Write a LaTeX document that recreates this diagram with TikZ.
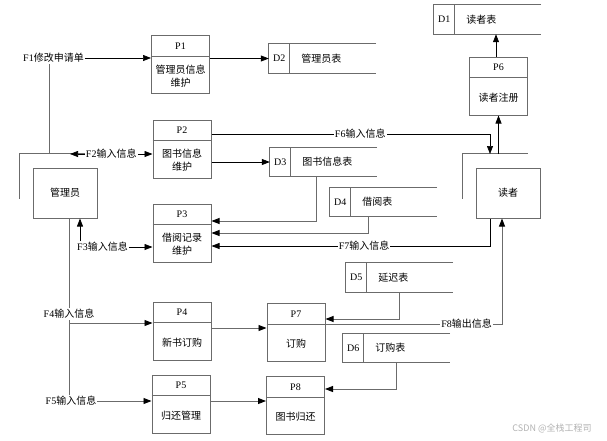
\documentclass[tikz,border=0pt]{standalone}
\usepackage{fontspec}
\setmainfont{Liberation Serif}
\newfontfamily\cjk{Noto Sans CJK SC}
\usetikzlibrary{arrows.meta,positioning}
\newcommand{\zh}[1]{{\cjk #1}}
\newcommand{\newProcess}[4]{%
  \node[process] (#1) at (#4) {};
  \draw[frame] ([yshift=-21pt]#1.north west) -- ([yshift=-21pt]#1.north east);
  \node at ([yshift=-11pt]#1.north) {#2};
  \node[zh,align=center] at ([yshift=-41pt]#1.north) {#3};}
\newcommand{\newStore}[4]{%
  \node[store] (#1) at (#4) {};
  \draw[frame] (#1.north east) -- (#1.north west) -- (#1.south west) -- (#1.south east);
  \draw[frame] ([xshift=21pt]#1.north west) -- ([xshift=21pt]#1.south west);
  \node at ([xshift=10.5pt]#1.west) {#2};
  \node[zh,anchor=west] at ([xshift=29pt]#1.west) {#3};}
\newcommand{\newEntity}[3]{%
  \node[entity] (#1) at (#3) {#2};
  \draw[frame] ([xshift=-13pt,yshift=20pt]#1.south west) -- ([xshift=-13pt,yshift=14pt]#1.north west)
    -- ([xshift=-13pt,yshift=14pt]#1.north east);}

\begin{document}
\begin{tikzpicture}[
    % pixel grid, y downwards
    x=1pt,y=-1pt,
    % Default arrow tip
    >={Triangle[length=8pt,width=6pt,color=black]},
    font=\fontsize{10}{13}\selectfont,
    zh/.style={font=\fontsize{10}{13}\selectfont\cjk},
    frame/.style={draw=black!58,line width=1pt},
    process/.style={frame,minimum width=58pt,minimum height=58pt,inner sep=0pt},
    store/.style={minimum width=107pt,minimum height=29pt,inner sep=0pt},
    entity/.style={frame,zh,minimum width=64pt,minimum height=50pt,inner sep=0pt},
    flow/.style={draw=black,line width=0.7pt},
    lead/.style={draw=black!58,line width=0.9pt},
    lbl/.style={fill=white,inner sep=1pt}
    ]
    \useasboundingbox (0,0) rectangle (607,440);

    \newEntity{admin}{管理员}{65,193}
    \newEntity{reader}{读者}{508,193}

    \newProcess{P1}{P1}{管理员信息\\维护}{180.5,64.5}
    \newProcess{P2}{P2}{图书信息\\维护}{182,149}
    \newProcess{P3}{P3}{借阅记录\\维护}{182,233}
    \newProcess{P4}{P4}{新书订购}{182,331}
    \newProcess{P5}{P5}{归还管理}{181,404}
    \newProcess{P6}{P6}{读者注册}{498.5,86}
    \newProcess{P7}{P7}{订购}{296,332.5}
    \newProcess{P8}{P8}{图书归还}{295.5,405.5}

    \newStore{D1}{D1}{读者表}{487.5,19.5}
    \newStore{D2}{D2}{管理员表}{322.5,58.5}
    \newStore{D3}{D3}{图书信息表}{323.5,162}
    \newStore{D4}{D4}{借阅表}{383.5,202}
    \newStore{D5}{D5}{延迟表}{399.5,277.5}
    \newStore{D6}{D6}{订购表}{396.5,348}

    % manager flows
    \coordinate (f1) at (49,154);
    \node[lbl] (F1) at (53.5,58) {F1\zh{修改申请单}};
    \draw[lead] (f1) -- (f1 |- F1.south);
    \draw[flow,->] (F1.east) -- (F1.east -| P1.west);
    \coordinate (f2) at (70,154);
    \draw[flow,<->] (f2) -- node[lbl]{F2\zh{输入信息}} (f2 -| P2.west);
    \node[lbl] (F3) at (102.5,247) {F3\zh{输入信息}};
    \coordinate (f3) at ([xshift=15pt]admin.south);
    \draw[flow,->] (F3.east) -- (F3.east -| P3.west);
    \draw[flow,->] (f3 |- F3.north) -- (f3);
    \coordinate (leg) at ([xshift=4pt]admin.south);
    \node[lbl] (F5) at (71,401) {F5\zh{输入信息}};
    \draw[lead] (leg) -- (leg |- F5.north);
    \node[lbl] (F4) at (69,314) {F4\zh{输入信息}};
    \coordinate (f4) at (69,323);
    \draw[lead,->] (f4) -- (f4 -| P4.west);
    \draw[lead,->] (F5.east) -- (F5.east -| P5.west);

    % stores
    \draw[flow,->] (P1.east |- D2.west) -- (D2.west);
    \draw[flow,->] (P2.east |- D3.west) -- (D3.west);
    \draw[lead,->] ([xshift=-7.5pt]D3.south) |- ([yshift=12pt]P3.east);
    \draw[lead,->] ([xshift=-15.5pt]D4.south) |- (P3.east);
    \draw[lead,->] (D5.south) |- ([yshift=13.5pt]P7.east);
    \draw[lead,->] (D6.south) |- ([yshift=16.5pt]P8.east);

    % reader flows
    \coordinate (f6) at (490,154);
    \draw[flow,->] ([yshift=15pt]P2.east) -| node[lbl,pos=0.267]{F6\zh{输入信息}} (f6);
    \draw[flow,->] (P6.south |- f6) -- (P6.south);
    \coordinate (p6up) at ([xshift=-2.5pt]P6.north);
    \draw[flow,->] (p6up) -- (p6up |- D1.south);
    \draw[flow,->] ([xshift=-18pt]reader.south) |- node[lbl,pos=0.726]{F7\zh{输入信息}} ([yshift=-13pt]P3.east);
    \draw[lead,->] ([yshift=8.5pt]P7.east) -| node[lbl,pos=0.4]{F8\zh{输出信息}} ([xshift=-6pt]reader.south);

    % orders and returns
    \coordinate (p4out) at ([yshift=3pt]P4.east);
    \draw[lead,->] (p4out) -- (p4out -| P7.west);
    \coordinate (p5out) at ([yshift=3pt]P5.east);
    \draw[lead,->] (p5out) -- (p5out -| P8.west);

    \node[text=black!30,font=\fontsize{9}{10}\selectfont\cjk] (mark) at (552,428) {CSDN @全栈工程司};
  \end{tikzpicture}
\end{document}
